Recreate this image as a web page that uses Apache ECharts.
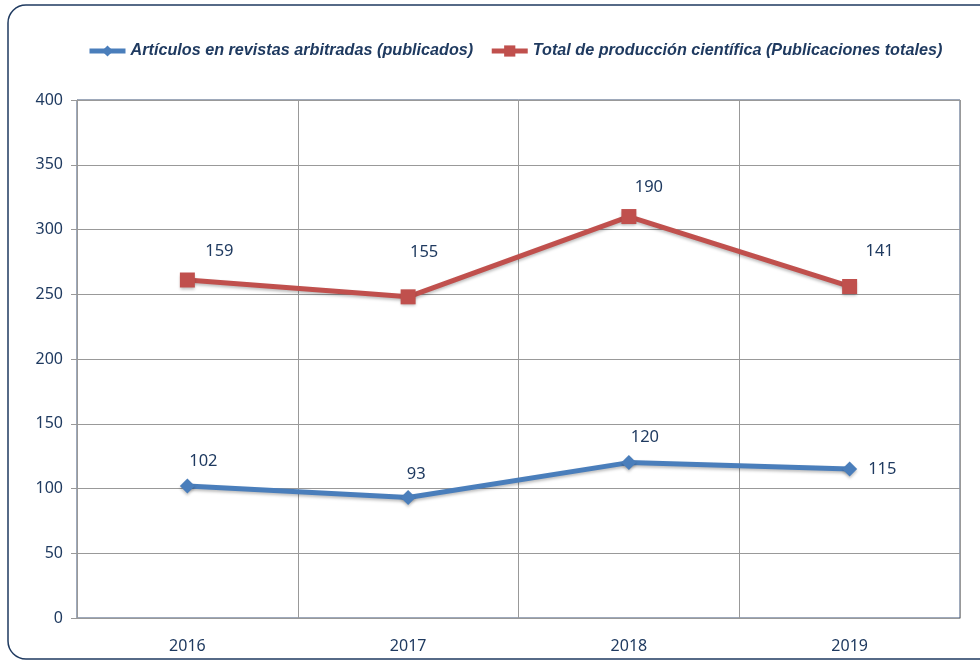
<!DOCTYPE html>
<html>
<head>
<meta charset="utf-8">
<script src="https://cdn.jsdelivr.net/npm/echarts@6/dist/echarts.min.js"></script>
<style>
  html, body { margin: 0; padding: 0; background: #fff; }
  #chart { width: 980px; height: 661px; }
</style>
</head>
<body>
<div id="chart"></div>
<script>
const years = ["2016", "2017", "2018", "2019"];
const articulos = [102, 93, 120, 115];
const total = [159, 155, 190, 141];
const yTicks = { min: 0, max: 400, step: 50 };

const navy = "#1f3a60";
const labelFont = "'Noto Sans', sans-serif";

// label offsets per point, picked to match the reference
const blueLabelPos = [
  { position: "top", offset: [16, -4] },
  { position: "top", offset: [8, -2] },
  { position: "top", offset: [16, -4] },
  { position: "right", offset: [6, 0] },
];
const redLabelPos = [
  { position: "top", offset: [32, -8] },
  { position: "top", offset: [16, -24] },
  { position: "top", offset: [20, -8] },
  { position: "top", offset: [30, -14] },
];

const shadow = { shadowColor: "rgba(0,0,0,0.25)", shadowBlur: 3, shadowOffsetY: 2 };

const chart = echarts.init(document.getElementById("chart"));

chart.setOption({
  backgroundColor: "#fff",
  animation: false,
  graphic: [
    {
      type: "rect",
      shape: { x: 8, y: 5, width: 1000, height: 654, r: 18 },
      style: { fill: "none", stroke: navy, lineWidth: 1.5 },
      silent: true,
      z: -1,
    },
  ],
  legend: {
    top: 38,
    left: 82,
    itemWidth: 36,
    itemHeight: 14,
    itemGap: 16,
    lineStyle: { width: 5 },
    textStyle: {
      color: navy,
      fontSize: 16.2,
      fontStyle: "italic",
      fontWeight: "bold",
      fontFamily: "'Liberation Sans', sans-serif",
    },
  },
  grid: {
    left: 77,
    right: 20,
    top: 100,
    bottom: 43,
    show: true,
    borderColor: "#3d5276",
    borderWidth: 1,
  },
  xAxis: {
    type: "category",
    data: years,
    boundaryGap: true,
    axisLine: { lineStyle: { color: "#999" } },
    axisTick: { show: false },
    splitLine: { show: true, interval: 0, lineStyle: { color: "#999" } },
    axisLabel: { color: navy, fontSize: 16, margin: 20, fontFamily: labelFont },
  },
  yAxis: {
    type: "value",
    min: yTicks.min,
    max: yTicks.max,
    interval: yTicks.step,
    axisLine: { show: true, lineStyle: { color: "#999" } },
    axisTick: { show: true, length: 6, lineStyle: { color: "#999" } },
    splitLine: { lineStyle: { color: "#999" } },
    axisLabel: { color: navy, fontSize: 16, margin: 14, fontFamily: labelFont },
  },
  series: [
    {
      name: "Artículos en revistas arbitradas (publicados)",
      type: "line",
      stack: "total",
      data: articulos.map((v, i) => ({ value: v, label: blueLabelPos[i] })),
      symbol: "diamond",
      symbolSize: 15,
      lineStyle: Object.assign({ color: "#4a7ebb", width: 5 }, shadow),
      itemStyle: Object.assign({ color: "#4a7ebb" }, shadow),
      label: { show: true, color: navy, fontSize: 16.5, fontFamily: labelFont },
    },
    {
      name: "Total de producción científica (Publicaciones totales)",
      type: "line",
      stack: "total",
      data: total.map((v, i) => ({ value: v, label: redLabelPos[i] })),
      symbol: "rect",
      symbolSize: 15,
      lineStyle: Object.assign({ color: "#c0504d", width: 5 }, shadow),
      itemStyle: Object.assign({ color: "#c0504d" }, shadow),
      label: { show: true, color: navy, fontSize: 16.5, fontFamily: labelFont },
    },
  ],
});
</script>
</body>
</html>
